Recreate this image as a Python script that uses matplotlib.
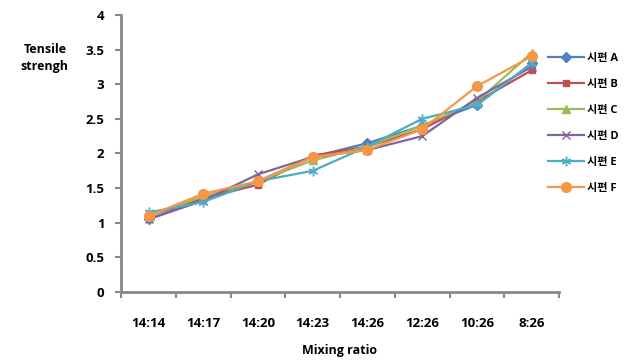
import matplotlib
matplotlib.use("Agg")
import matplotlib.pyplot as plt
import numpy as np
from matplotlib.ticker import FixedLocator

plt.rcParams['font.family'] = ['Open Sans', 'Noto Sans CJK KR', 'DejaVu Sans']
plt.rcParams['font.weight'] = 'bold'

categories = ["14:14", "14:17", "14:20", "14:23", "14:26", "12:26", "10:26", "8:26"]
series_names = ["시편 A", "시편 B", "시편 C", "시편 D", "시편 E", "시편 F"]
vals_A = [1.05, 1.35, 1.60, 1.95, 2.15, 2.40, 2.70, 3.30]
vals_B = [1.10, 1.35, 1.55, 1.97, 2.10, 2.35, 2.75, 3.20]
vals_C = [1.10, 1.38, 1.60, 1.90, 2.10, 2.40, 2.75, 3.45]
vals_D = [1.05, 1.32, 1.70, 1.95, 2.05, 2.25, 2.80, 3.25]
vals_E = [1.15, 1.30, 1.60, 1.75, 2.10, 2.50, 2.70, 3.30]
vals_F = [1.10, 1.42, 1.60, 1.95, 2.05, 2.35, 2.97, 3.40]
all_vals = [vals_A, vals_B, vals_C, vals_D, vals_E, vals_F]
colors = ["#4F81BD", "#C0504D", "#9BBB59", "#8064A2", "#4BACC6", "#F79646"]
markers = ["D", "s", "^", "x", (6, 2, 0), "o"]
msizes = [5, 5, 6, 6, 7, 7]

fig = plt.figure(figsize=(6.41, 3.62), dpi=100)
ax = fig.add_axes([0.189, 0.193, 0.683, 0.766])

x = np.arange(len(categories))
for name, v, c, m, ms in zip(series_names, all_vals, colors, markers, msizes):
    ax.plot(x, v, color=c, marker=m, markersize=ms, linewidth=1.6,
            markeredgecolor=c, markerfacecolor=c, label=name)

ax.set_xlim(-0.5, len(categories) - 0.5)
ax.set_ylim(0, 4)
ax.set_yticks(np.arange(0, 4.01, 0.5))
ax.set_yticklabels(["0", "0.5", "1", "1.5", "2", "2.5", "3", "3.5", "4"])
ax.set_xticks(x)
ax.set_xticklabels(categories)
ax.xaxis.set_minor_locator(FixedLocator(np.arange(-0.5, len(categories), 1.0)))
ax.tick_params(axis='x', which='major', length=0, pad=18, labelsize=9.5)
ax.tick_params(axis='x', which='minor', length=4, width=1.5, color='#888888', direction='out')
ax.tick_params(axis='y', length=4, width=1.5, color='#888888', direction='out', labelsize=9.5, pad=8)
for lab in ax.get_xticklabels() + ax.get_yticklabels():
    lab.set_fontweight('bold')

for s in ['top', 'right']:
    ax.spines[s].set_visible(False)
for s in ['left', 'bottom']:
    ax.spines[s].set_color('#888888')
    ax.spines[s].set_linewidth(2)

fig.text(0.07, 0.84, "Tensile\nstrengh", ha='center', va='center', fontsize=9,
         fontweight='bold', linespacing=1.4)
fig.text(0.53, 0.033, "Mixing ratio", ha='center', va='center', fontsize=9,
         fontweight='bold')

leg = ax.legend(loc='upper left', bbox_to_anchor=(0.965, 0.88), frameon=False,
                fontsize=8, handlelength=3.2, labelspacing=1.35, handletextpad=0.3,
                borderaxespad=0)
for t in leg.get_texts():
    t.set_fontweight('bold')

fig.savefig("out.png", dpi=100)
